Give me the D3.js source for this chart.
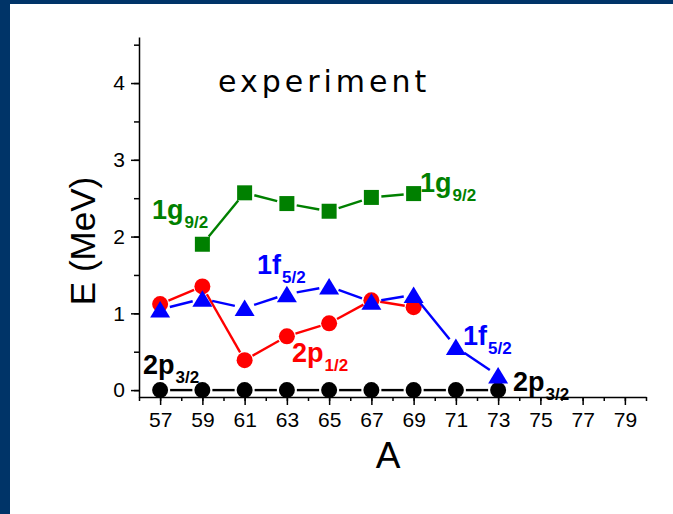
<!DOCTYPE html>
<html>
<head>
<meta charset="utf-8">
<script src="https://cdn.jsdelivr.net/npm/d3@7"></script>
<style>
  body { margin: 0; background: #fff; }
  svg { display: block; font-family: "Liberation Sans", Arial, sans-serif; }
</style>
</head>
<body>
<script>
// values
const xTickValues = [57, 59, 61, 63, 65, 67, 69, 71, 73, 75, 77, 79];
const yTickValues = [0, 1, 2, 3, 4];

const p32Mass = [57, 59, 61, 63, 65, 67, 69, 71, 73];
const p32Energy = [0, 0, 0, 0, 0, 0, 0, 0, 0];

const g92Mass = [59, 61, 63, 65, 67, 69];
const g92Energy = [1.90, 2.57, 2.43, 2.33, 2.51, 2.56];

const p12Mass = [57, 59, 61, 63, 65, 67, 69];
const p12Energy = [1.12, 1.35, 0.39, 0.70, 0.87, 1.17, 1.08];

const f52Mass = [57, 59, 61, 63, 65, 67, 69, 71, 73];
const f52Energy = [1.05, 1.19, 1.07, 1.25, 1.35, 1.15, 1.24, 0.56, 0.19];

let w = 673;
let h = 514;

let svg = d3.select("body")
  .append("svg")
  .attr("width", w)
  .attr("height", h);

// dark frame on the left and top
svg.append("rect").attr("x", 0).attr("y", 0).attr("width", w).attr("height", 4).attr("fill", "#003468");
svg.append("rect").attr("x", 0).attr("y", 0).attr("width", 10).attr("height", h).attr("fill", "#003468");

let xScale = d3.scaleLinear()
  .domain([56, 80])
  .range([139, 646]);
let yScale = d3.scaleLinear()
  .domain([-0.09, 4.6])
  .range([397, 37]);

// minor ticks first, then the labelled ones
svg.append("g")
  .attr("transform", "translate(0,397)")
  .call(d3.axisBottom(xScale).tickValues(d3.range(56, 81, 1)).tickSize(4).tickFormat(""))
  .call(g => g.select(".domain").remove());
svg.append("g")
  .attr("transform", "translate(139,0)")
  .call(d3.axisLeft(yScale).tickValues(d3.range(0, 4.6, 0.5)).tickSize(5).tickFormat(""))
  .call(g => g.select(".domain").remove());

let xAxis = svg.append("g")
  .attr("transform", "translate(0,397)")
  .call(d3.axisBottom(xScale).tickValues(xTickValues).tickSize(8).tickSizeOuter(0).tickPadding(7).tickFormat(d3.format("d")));
let yAxis = svg.append("g")
  .attr("transform", "translate(139,0)")
  .call(d3.axisLeft(yScale).tickValues(yTickValues).tickSize(8).tickSizeOuter(0).tickPadding(6).tickFormat(d3.format("d")));

svg.selectAll(".tick line").attr("stroke", "#000").attr("stroke-width", 1.5);
svg.selectAll(".domain").attr("stroke", "#000").attr("stroke-width", 1.5);
xAxis.selectAll("text").style("font-size", "21px").attr("fill", "#000");
yAxis.selectAll("text").style("font-size", "21px").attr("fill", "#000");

svg.append("text")
  .attr("transform", "translate(95,241) rotate(-90)")
  .attr("text-anchor", "middle")
  .style("font-size", "35px")
  .text("E (MeV)");

svg.append("text")
  .attr("x", 388)
  .attr("y", 468)
  .attr("text-anchor", "middle")
  .style("font-size", "37px")
  .text("A");

svg.append("text")
  .attr("x", 218)
  .attr("y", 92)
  .style("font-family", "'DejaVu Sans', sans-serif")
  .style("font-size", "30px")
  .style("letter-spacing", "4px")
  .text("experiment");

// line with small gaps around each marker, like the original plot
function drawSeries(mass, energy, color, gap) {
  let pts = mass.map((m, i) => [xScale(m), yScale(energy[i])]);
  let g = svg.append("g");
  for (let i = 0; i < pts.length - 1; i++) {
    let [x1, y1] = pts[i];
    let [x2, y2] = pts[i + 1];
    let len = Math.hypot(x2 - x1, y2 - y1);
    if (len <= 2 * gap) continue;
    let ux = (x2 - x1) / len, uy = (y2 - y1) / len;
    g.append("line")
      .attr("x1", x1 + ux * gap).attr("y1", y1 + uy * gap)
      .attr("x2", x2 - ux * gap).attr("y2", y2 - uy * gap)
      .attr("stroke", color)
      .attr("stroke-width", 2.4);
  }
  return { g: g, pts: pts };
}

let black = drawSeries(p32Mass, p32Energy, "#000", 10);
black.g.selectAll("circle")
  .data(black.pts)
  .enter()
  .append("circle")
  .attr("cx", d => d[0])
  .attr("cy", d => d[1])
  .attr("r", 8)
  .attr("fill", "#000");

let green = drawSeries(g92Mass, g92Energy, "#008000", 10);
green.g.selectAll("rect")
  .data(green.pts)
  .enter()
  .append("rect")
  .attr("x", d => d[0] - 7.5)
  .attr("y", d => d[1] - 7.5)
  .attr("width", 15)
  .attr("height", 15)
  .attr("fill", "#008000");

let red = drawSeries(p12Mass, p12Energy, "#ff0000", 9);
red.g.selectAll("circle")
  .data(red.pts)
  .enter()
  .append("circle")
  .attr("cx", d => d[0])
  .attr("cy", d => d[1])
  .attr("r", 8)
  .attr("fill", "#ff0000");

let blue = drawSeries(f52Mass, f52Energy, "#0000ff", 10);
blue.g.selectAll("path")
  .data(blue.pts)
  .enter()
  .append("path")
  .attr("d", d => "M" + d[0] + "," + (d[1] - 8.5) + "L" + (d[0] + 10) + "," + (d[1] + 8) + "L" + (d[0] - 10) + "," + (d[1] + 8) + "Z")
  .attr("fill", "#0000ff");

// series labels: main text plus subscript
function addLabel(x, y, main, sub, color) {
  let t = svg.append("text")
    .attr("x", x)
    .attr("y", y)
    .attr("fill", color)
    .style("font-weight", "bold")
    .style("font-size", "27px");
  t.append("tspan").text(main);
  t.append("tspan").attr("dx", 1).attr("dy", 9).style("font-size", "17px").text(sub);
}

addLabel(152, 219, "1g", "9/2", "#008000");
addLabel(420, 192, "1g", "9/2", "#008000");
addLabel(257, 274, "1f", "5/2", "#0000ff");
addLabel(463, 345, "1f", "5/2", "#0000ff");
addLabel(292, 362, "2p", "1/2", "#ff0000");
addLabel(143, 374, "2p", "3/2", "#000");
addLabel(513, 391, "2p", "3/2", "#000");
</script>
</body>
</html>
